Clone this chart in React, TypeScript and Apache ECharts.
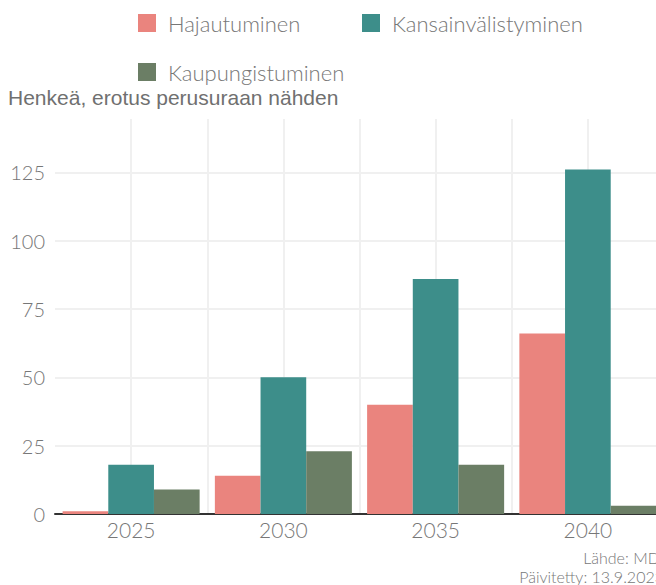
import React, { useEffect, useRef } from "react";
import * as echarts from "echarts";

const categories = ["2025", "2030", "2035", "2040"];
const seriesNames = ["Hajautuminen", "Kansainvälistyminen", "Kaupungistuminen"];
const hajautuminen = [1, 14, 40, 66];
const kansainvalistyminen = [18, 50, 86, 126];
const kaupungistuminen = [9, 23, 18, 3];
const yTicks = [0, 25, 50, 75, 100, 125];
const subtitle = "Henkeä, erotus perusuraan nähden";
const source = "Lähde: MDI";
const updated = "Päivitetty: 13.9.2023";

const colors = ["#ea847e", "#3d8e8a", "#6b7e65"];
const lightFont = "Lato";

export default function App() {
  const ref = useRef<HTMLDivElement>(null);
  useEffect(() => {
    if (!ref.current) return;
    const chart = echarts.init(ref.current, null, { renderer: "svg" });
    const values = [hajautuminen, kansainvalistyminen, kaupungistuminen];
    const yMax = 144.5;
    const gridColor = "#f0f0f0";
    const legendPos = [
      { left: 138, top: 12 },
      { left: 362, top: 12 },
      { left: 138, top: 61 },
    ];
    chart.setOption({
      animation: false,
      backgroundColor: "#ffffff",
      legend: seriesNames.map((n, i) => ({
        data: [n],
        left: legendPos[i].left,
        top: legendPos[i].top,
        padding: 0,
        itemWidth: 18,
        itemHeight: 18,
        icon: "rect",
        textStyle: {
          fontFamily: lightFont,
          fontWeight: 300,
          fontSize: 22,
          lineHeight: 22,
          color: "#777777",
          padding: [0, 0, 0, 7],
        },
      })),
      grid: { left: 55, right: 0, top: 119, bottom: 71 },
      xAxis: [
        {
          type: "category",
          data: categories,
          axisLine: { lineStyle: { color: "#333333", width: 2 } },
          axisTick: { show: false },
          splitLine: { show: false },
          axisLabel: {
            fontFamily: lightFont,
            fontWeight: 300,
            fontSize: 21,
            color: "#777777",
            margin: 5,
          },
        },
        {
          type: "value",
          min: 0,
          max: categories.length,
          interval: 0.5,
          position: "bottom",
          axisLine: { show: false },
          axisTick: { show: false },
          axisLabel: { show: false },
          splitLine: {
            show: true,
            lineStyle: {
              width: 2,
              color: ["rgba(0,0,0,0)", gridColor, gridColor, gridColor, gridColor, gridColor, gridColor, gridColor, "rgba(0,0,0,0)"],
            },
          },
        },
      ],
      yAxis: {
        type: "value",
        min: 0,
        max: yMax,
        interval: 25,
        axisLine: { show: false },
        axisTick: { show: false },
        axisLabel: {
          fontFamily: lightFont,
          fontWeight: 300,
          fontSize: 20,
          color: "#777777",
          margin: 10,
          formatter: (v: number) => (yTicks.includes(v) ? String(v) : ""),
        },
        splitLine: {
          show: true,
          lineStyle: {
            width: 2,
            color: [gridColor, gridColor, gridColor, gridColor, gridColor, gridColor, "rgba(0,0,0,0)"],
          },
        },
      },
      series: seriesNames.map((n, i) => ({
        name: n,
        type: "bar",
        xAxisIndex: 0,
        data: values[i],
        itemStyle: { color: colors[i] },
        barGap: "0%",
        barCategoryGap: "10%",
        z: 3,
      })),
      graphic: [
        {
          type: "text",
          x: 8,
          y: 97,
          style: {
            text: subtitle,
            fontFamily: "Liberation Sans",
            fontSize: 21,
            lineHeight: 21,
            fill: "#707070",
            verticalAlign: "middle",
          },
        },
        {
          type: "text",
          x: 664,
          y: 557,
          style: {
            text: source,
            fontFamily: lightFont,
            fontWeight: 300,
            fontSize: 16,
            fill: "#777777",
            align: "right",
            verticalAlign: "middle",
          },
        },
        {
          type: "text",
          x: 664,
          y: 576,
          style: {
            text: updated,
            fontFamily: lightFont,
            fontWeight: 300,
            fontSize: 16,
            fill: "#777777",
            align: "right",
            verticalAlign: "middle",
          },
        },
      ],
    });
    return () => chart.dispose();
  }, []);
  return (
    <div style={{ position: "fixed", left: 0, top: 0, width: 656, height: 585, overflow: "hidden", background: "#fff" }}>
      <div ref={ref} style={{ width: 664, height: 585 }} />
    </div>
  );
}
